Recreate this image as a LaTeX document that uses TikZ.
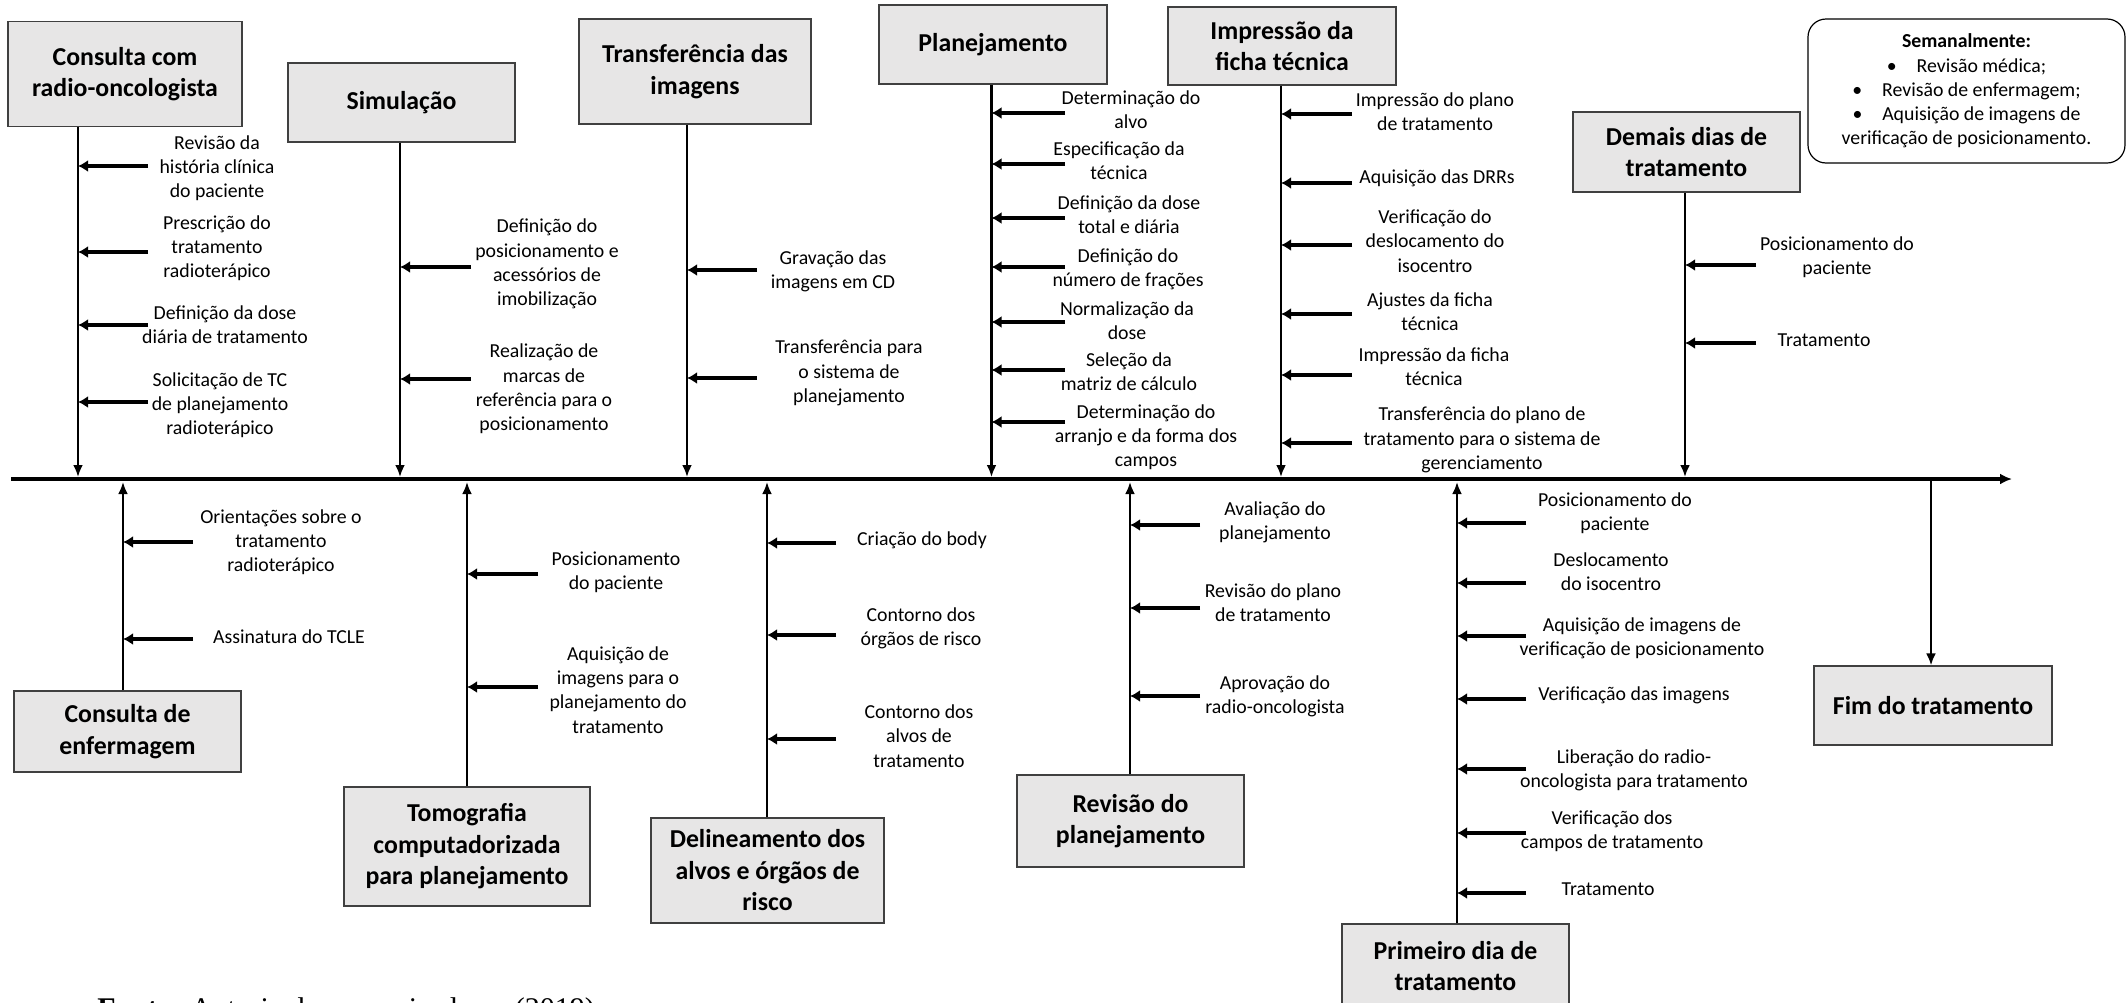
\documentclass[tikz,border=0pt]{standalone}
\usepackage{fontspec}
\setmainfont{Carlito}
\newfontfamily\fonteserif{Liberation Serif}
\usetikzlibrary{arrows.meta}
\definecolor{cinza}{HTML}{E7E6E6}
\definecolor{borda}{HTML}{404040}

\begin{document}
\begin{tikzpicture}[x=0.5pt, y=-0.5pt,
    etapa/.style={draw=borda, fill=cinza, line width=0.6pt, inner sep=0pt, align=center, font=\bfseries\fontsize{12.9}{15.75}\selectfont},
    item/.style={inner sep=0pt, align=center, font=\fontsize{9.9}{12.1}\selectfont},
    haste/.style={line width=1.4pt, -{Latex[length=6pt,width=5pt]}},
    seta/.style={line width=1.8pt, -{Latex[length=5pt,width=6pt]}}]
\useasboundingbox (0,0) rectangle (2127,1002);
% Eixo principal
\coordinate (ini) at (11,479);
\coordinate (fimeixo) at (2012,479);
\draw[line width=1.8pt, -{Latex[length=6pt,width=5.5pt]}] (ini) -- (fimeixo);

% Consulta com radio-oncologista
\node[etapa, minimum width=117pt, minimum height=52.5pt] (radio) at (125,74) {Consulta com\\radio-oncologista};
\coordinate (e1) at (78,477);
\draw[haste] (radio.south -| e1) -- (e1);
\foreach \ya/\yt/\xt/\txt [count=\i] in {166/168/217/{Revisão da\\história clínica\\do paciente},
    252/248/217/{Prescrição do\\tratamento\\radioterápico},
    325/325/225/{Definição da dose\\diária de tratamento},
    402/405/220/{Solicitação de TC\\de planejamento\\radioterápico}}{
  \node[item] (radio-\i) at (\xt,\yt) {\txt};
  \coordinate (radio-s\i) at (148,\ya);
  \draw[seta] (radio-s\i) -- (radio-s\i -| e1);
}

% Simulação
\node[etapa, minimum width=113.5pt, minimum height=39.5pt] (simul) at (401.5,102.5) {Simulação};
\coordinate (e2) at (400,477);
\draw[haste] (simul.south -| e2) -- (e2);
\foreach \ya/\yt/\xt/\txt [count=\i] in {267/264/547/{Definição do\\posicionamento e\\acessórios de\\imobilização},
    379/389/544/{Realização de\\marcas de\\referência para o\\posicionamento}}{
  \node[item] (simul-\i) at (\xt,\yt) {\txt};
  \coordinate (simul-s\i) at (471,\ya);
  \draw[seta] (simul-s\i) -- (simul-s\i -| e2);
}

% Transferência das imagens
\node[etapa, minimum width=116pt, minimum height=52.5pt] (transf) at (695,71.5) {Transferência das\\imagens};
\coordinate (e3) at (687,477);
\draw[haste] (transf.south -| e3) -- (e3);
\foreach \ya/\yt/\xt/\txt [count=\i] in {270/271/833/{Gravação das\\imagens em CD},
    378/373/849/{Transferência para\\o sistema de\\planejamento}}{
  \node[item] (transf-\i) at (\xt,\yt) {\txt};
  \coordinate (transf-s\i) at (757,\ya);
  \draw[seta] (transf-s\i) -- (transf-s\i -| e3);
}

% Planejamento
\node[etapa, minimum width=114pt, minimum height=39.5pt] (plan) at (993,44.5) {Planejamento};
\coordinate (e4) at (991.5,477);
\draw[haste] (plan.south -| e4) -- (e4);
\foreach \ya/\yt/\xt/\txt [count=\i] in {113/110/1131/{Determinação do\\alvo},
    164/161/1119/{Especificação da\\técnica},
    218/215/1129/{Definição da dose\\total e diária},
    267/269/1128/{Definição do\\número de frações},
    322/321/1127/{Normalização da\\dose},
    370/372/1129/{Seleção da\\matriz de cálculo},
    422/437/1146/{Determinação do\\arranjo e da forma dos\\campos}}{
  \node[item] (plan-\i) at (\xt,\yt) {\txt};
  \coordinate (plan-s\i) at (1065,\ya);
  \draw[seta] (plan-s\i) -- (plan-s\i -| e4);
}

% Impressão da ficha técnica
\node[etapa, minimum width=114pt, minimum height=39pt] (ficha) at (1282,46) {Impressão da\\ficha técnica};
\coordinate (e5) at (1281,477);
\draw[haste] (ficha.south -| e5) -- (e5);
\foreach \ya/\yt/\xt/\txt [count=\i] in {114/112/1435/{Impressão do plano\\de tratamento},
    183/178/1437/{Aquisição das DRRs},
    245/241/1435/{Verificação do\\deslocamento do\\isocentro},
    314/312/1430/{Ajustes da ficha\\técnica},
    375/367/1434/{Impressão da ficha\\técnica},
    443/440/1482/{Transferência do plano de\\tratamento para o sistema de\\gerenciamento}}{
  \node[item] (ficha-\i) at (\xt,\yt) {\txt};
  \coordinate (ficha-s\i) at (1352,\ya);
  \draw[seta] (ficha-s\i) -- (ficha-s\i -| e5);
}

% Demais dias de tratamento
\node[etapa, minimum width=113.5pt, minimum height=40pt] (demais) at (1686.5,152) {Demais dias de\\tratamento};
\coordinate (e6) at (1685,477);
\draw[haste] (demais.south -| e6) -- (e6);
\foreach \ya/\yt/\xt/\txt [count=\i] in {265/257/1837/{Posicionamento do\\paciente},
    343/340/1824/{Tratamento}}{
  \node[item] (demais-\i) at (\xt,\yt) {\txt};
  \coordinate (demais-s\i) at (1756,\ya);
  \draw[seta] (demais-s\i) -- (demais-s\i -| e6);
}

% Quadro semanal
\node[draw, line width=0.6pt, rounded corners=9pt, minimum width=158.5pt, minimum height=72pt, align=center, font=\fontsize{9.9}{12.1}\selectfont] (semana) at (1966.5,91)
  {\textbf{Semanalmente:}\\•\quad Revisão médica;\\•\quad Revisão de enfermagem;\\•\quad Aquisição de imagens de\\verificação de posicionamento.};

% Consulta de enfermagem
\node[etapa, minimum width=113.5pt, minimum height=40.5pt] (enferm) at (127.5,731.5) {Consulta de\\enfermagem};
\coordinate (e7) at (123,482);
\draw[haste] (enferm.north -| e7) -- (e7);
\foreach \ya/\yt/\xt/\txt [count=\i] in {542/542/281/{Orientações sobre o\\tratamento\\radioterápico},
    639/637/289/{Assinatura do TCLE}}{
  \node[item] (enferm-\i) at (\xt,\yt) {\txt};
  \coordinate (enferm-s\i) at (193,\ya);
  \draw[seta] (enferm-s\i) -- (enferm-s\i -| e7);
}

% Tomografia computadorizada
\node[etapa, minimum width=123pt, minimum height=59.5pt] (tomo) at (467,846.5) {Tomografia\\computadorizada\\para planejamento};
\coordinate (e8) at (467,482);
\draw[haste] (tomo.north -| e8) -- (e8);
\foreach \ya/\yt/\xt/\txt [count=\i] in {574/572/616/{Posicionamento\\do paciente},
    687/690/618/{Aquisição de\\imagens para o\\planejamento do\\tratamento}}{
  \node[item] (tomo-\i) at (\xt,\yt) {\txt};
  \coordinate (tomo-s\i) at (538,\ya);
  \draw[seta] (tomo-s\i) -- (tomo-s\i -| e8);
}

% Delineamento dos alvos
\node[etapa, minimum width=116.5pt, minimum height=52.5pt] (delin) at (767.5,870.5) {Delineamento dos\\alvos e órgãos de\\risco};
\coordinate (e9) at (767,482);
\draw[haste] (delin.north -| e9) -- (e9);
\foreach \ya/\yt/\xt/\txt [count=\i] in {543/540/922/{Criação do body},
    635/628/921/{Contorno dos\\órgãos de risco},
    739/736/919/{Contorno dos\\alvos de\\tratamento}}{
  \node[item] (delin-\i) at (\xt,\yt) {\txt};
  \coordinate (delin-s\i) at (836,\ya);
  \draw[seta] (delin-s\i) -- (delin-s\i -| e9);
}

% Revisão do planejamento
\node[etapa, minimum width=113.5pt, minimum height=46pt] (revis) at (1130.5,821) {Revisão do\\planejamento};
\coordinate (e10) at (1130,482);
\draw[haste] (revis.north -| e10) -- (e10);
\foreach \ya/\yt/\xt/\txt [count=\i] in {525/522/1275/{Avaliação do\\planejamento},
    608/603/1273/{Revisão do plano\\de tratamento},
    696/696/1275/{Aprovação do\\radio-oncologista}}{
  \node[item] (revis-\i) at (\xt,\yt) {\txt};
  \coordinate (revis-s\i) at (1200,\ya);
  \draw[seta] (revis-s\i) -- (revis-s\i -| e10);
}

% Primeiro dia de tratamento
\node[etapa, minimum width=113.5pt, minimum height=42pt] (prim) at (1455.5,966) {Primeiro dia de\\tratamento};
\coordinate (e11) at (1457,482);
\draw[haste] (prim.north -| e11) -- (e11);
\foreach \ya/\yt/\xt/\txt [count=\i] in {523/513/1615/{Posicionamento do\\paciente},
    583/572/1611/{Deslocamento\\do isocentro},
    636/638/1642/{Aquisição de imagens de\\verificação de posicionamento},
    699/695/1634/{Verificação das imagens},
    769/770/1634/{Liberação do radio-\\oncologista para tratamento},
    833/831/1612/{Verificação dos\\campos de tratamento},
    893/889/1608/{Tratamento}}{
  \node[item] (prim-\i) at (\xt,\yt) {\txt};
  \coordinate (prim-s\i) at (1526,\ya);
  \draw[seta] (prim-s\i) -- (prim-s\i -| e11);
}

% Fim do tratamento
\node[etapa, minimum width=119pt, minimum height=39.5pt] (fim) at (1933,705.5) {Fim do tratamento};
\coordinate (e12) at (1931,479);
\draw[haste] (e12) -- (e12 |- fim.north);

% Fonte
\node[anchor=base west, inner sep=0pt, font=\fonteserif\fontsize{15}{18}\selectfont] (fonte) at (97,1018) {\textbf{Fonte:} Autoria dos pesquisadores (2019)};
\end{tikzpicture}
\end{document}
